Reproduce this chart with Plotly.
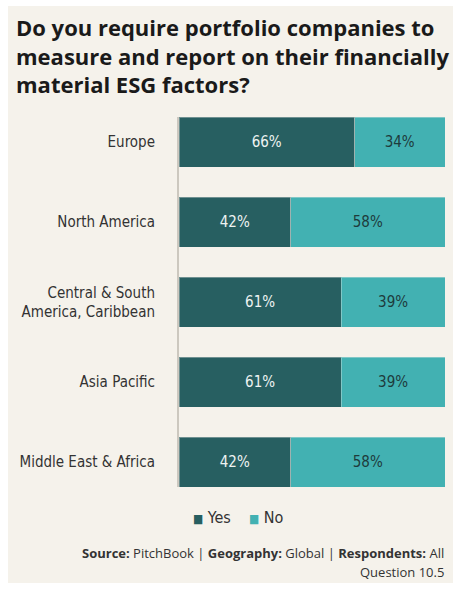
import plotly.graph_objects as go

categories = ["Europe", "North America", "Central & South<br>America, Caribbean", "Asia Pacific", "Middle East & Africa"]
yes_values = [66, 42, 61, 61, 42]
no_values = [34, 58, 39, 39, 58]
series_names = ["Yes", "No"]

YES_C = "#275F61"
NO_C = "#42B1B2"
BG = "#F5F2EB"
FONT = "Liberation Sans Narrow, DejaVu Sans Condensed, sans-serif"

W, H = 460, 589
L, R, T, B = 179, 15, 117, 102
PW, PH = W - L - R, H - T - B
BARGAP = 0.375
HALF = (1 - BARGAP) / 2


def px_x(p):
    return (p - L) / PW


def px_y(p):
    return (H - B - p) / PH


fig = go.Figure()
fig.add_trace(go.Bar(
    y=categories, x=yes_values, name=series_names[0], orientation="h",
    marker=dict(color=YES_C, line=dict(color="rgba(245,242,235,0.35)", width=1)),
    text=[f"{v}%" for v in yes_values], textposition="inside",
    insidetextanchor="middle", textangle=0,
    textfont=dict(family=FONT, size=15, color="#EEF3F2"),
    hoverinfo="skip",
))
fig.add_trace(go.Bar(
    y=categories, x=no_values, name=series_names[1], orientation="h",
    marker=dict(color=NO_C, line=dict(color="rgba(245,242,235,0.35)", width=1)),
    text=[f"{v}%" for v in no_values], textposition="inside",
    insidetextanchor="middle", textangle=0,
    textfont=dict(family=FONT, size=15, color="#1E3B3C"),
    hoverinfo="skip",
))

fig.update_layout(
    width=W, height=H,
    margin=dict(l=L, r=R, t=T, b=B, pad=0, autoexpand=False),
    barmode="stack", bargap=BARGAP,
    paper_bgcolor="white", plot_bgcolor="rgba(0,0,0,0)",
    showlegend=False,
    uniformtext=dict(minsize=8, mode=False),
    title=dict(
        text="<b>Do you require portfolio companies to<br>measure and report on their financially<br>material ESG factors?</b>",
        x=16 / W, xref="container", xanchor="left",
        y=1 - 36 / H, yref="container", yanchor="top",
        font=dict(family="Open Sans, sans-serif", size=22, color="#1A1A1A"),
    ),
    xaxis=dict(range=[0, 100], visible=False, fixedrange=True, automargin=False),
    yaxis=dict(
        categoryorder="array", categoryarray=categories[::-1],
        autorange=False, range=[-HALF, len(categories) - 1 + HALF], automargin=False,
        showline=True, linecolor="#CCC8BF", linewidth=2,
        showgrid=False, zeroline=False, ticks="",
        ticklabelstandoff=19,
        tickfont=dict(family=FONT, size=15, color="#333333"),
    ),
    shapes=[dict(
        type="rect", xref="paper", yref="paper", layer="below",
        x0=px_x(8), x1=px_x(453), y0=px_y(583), y1=px_y(6),
        fillcolor=BG, line=dict(width=0),
    )],
    annotations=[
        dict(text=f"<span style='color:{YES_C};font-size:12px'>■</span> {series_names[0]}",
             xref="paper", yref="paper", x=px_x(191), y=px_y(517),
             xanchor="left", yanchor="middle", showarrow=False,
             font=dict(family=FONT, size=16, color="#333333")),
        dict(text=f"<span style='color:{NO_C};font-size:12px'>■</span> {series_names[1]}",
             xref="paper", yref="paper", x=px_x(247), y=px_y(517),
             xanchor="left", yanchor="middle", showarrow=False,
             font=dict(family=FONT, size=16, color="#333333")),
        dict(text="<b>Source:</b> PitchBook | <b>Geography:</b> Global | <b>Respondents:</b> All",
             xref="paper", yref="paper", x=px_x(446), y=px_y(553),
             xanchor="right", yanchor="middle", showarrow=False,
             font=dict(family="Open Sans, sans-serif", size=13, color="#333333")),
        dict(text="Question 10.5",
             xref="paper", yref="paper", x=px_x(446), y=px_y(572),
             xanchor="right", yanchor="middle", showarrow=False,
             font=dict(family="Open Sans, sans-serif", size=13, color="#333333")),
    ],
)

fig.write_html("out.html")
